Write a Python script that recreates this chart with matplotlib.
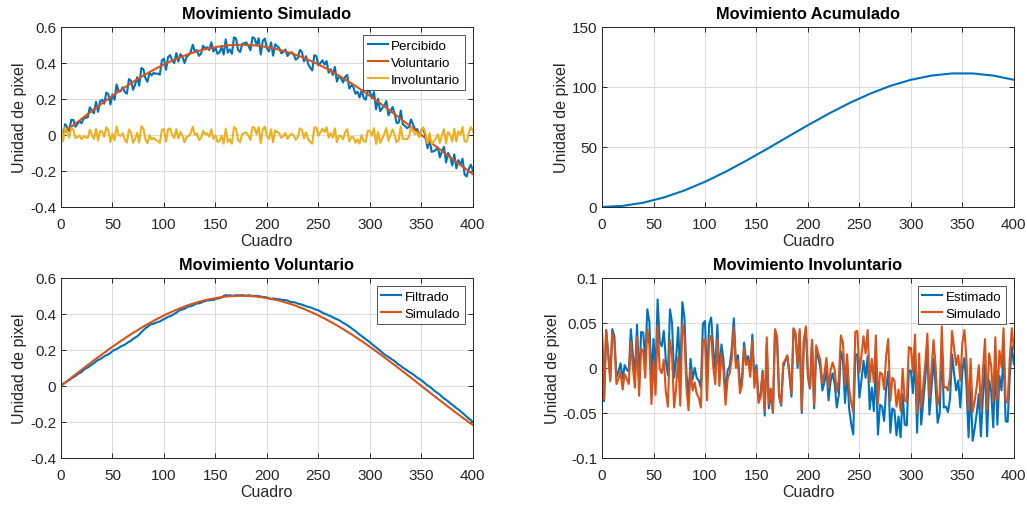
import matplotlib.pyplot as plt
import numpy as np
from matplotlib.ticker import FuncFormatter

plt.rcParams['font.family'] = ['Liberation Sans', 'DejaVu Sans']

# frames (step 2)
cuadro = np.arange(0, 401, 2)

voluntario = [
    0.000, 0.009, 0.018, 0.027, 0.036, 0.045, 0.054, 0.063, 0.072, 0.080,
    0.089, 0.098, 0.107, 0.116, 0.124, 0.133, 0.142, 0.150, 0.159, 0.167,
    0.176, 0.184, 0.192, 0.201, 0.209, 0.217, 0.225, 0.233, 0.241, 0.249,
    0.256, 0.264, 0.272, 0.279, 0.287, 0.294, 0.301, 0.308, 0.315, 0.322,
    0.329, 0.336, 0.342, 0.349, 0.355, 0.361, 0.368, 0.374, 0.379, 0.385,
    0.391, 0.397, 0.402, 0.407, 0.412, 0.417, 0.422, 0.427, 0.432, 0.436,
    0.440, 0.445, 0.449, 0.453, 0.456, 0.460, 0.463, 0.467, 0.470, 0.473,
    0.476, 0.478, 0.481, 0.483, 0.485, 0.487, 0.489, 0.491, 0.493, 0.494,
    0.496, 0.497, 0.498, 0.499, 0.499, 0.500, 0.500, 0.500, 0.500, 0.500,
    0.499, 0.499, 0.498, 0.498, 0.497, 0.496, 0.494, 0.493, 0.491, 0.489,
    0.487, 0.485, 0.483, 0.481, 0.478, 0.476, 0.473, 0.470, 0.467, 0.463,
    0.460, 0.456, 0.453, 0.449, 0.445, 0.440, 0.436, 0.432, 0.427, 0.422,
    0.417, 0.412, 0.407, 0.402, 0.397, 0.391, 0.385, 0.379, 0.374, 0.368,
    0.361, 0.355, 0.349, 0.342, 0.336, 0.329, 0.322, 0.315, 0.308, 0.301,
    0.294, 0.287, 0.279, 0.272, 0.264, 0.256, 0.249, 0.241, 0.233, 0.225,
    0.217, 0.209, 0.201, 0.192, 0.184, 0.176, 0.167, 0.159, 0.150, 0.142,
    0.133, 0.124, 0.116, 0.107, 0.098, 0.089, 0.080, 0.072, 0.063, 0.054,
    0.045, 0.036, 0.027, 0.018, 0.009, 0.000, -0.009, -0.018, -0.027, -0.036,
    -0.045, -0.054, -0.063, -0.072, -0.080, -0.089, -0.098, -0.107, -0.116, -0.124,
    -0.133, -0.142, -0.150, -0.159, -0.167, -0.176, -0.184, -0.192, -0.201, -0.209,
    -0.217]

involuntario = [
    0.040, -0.035, 0.042, 0.015, -0.015, 0.039, 0.029, -0.018, -0.012, -0.004,
    -0.024, -0.007, -0.012, -0.018, 0.029, 0.000, -0.022, 0.034, -0.031, 0.021,
    0.019, -0.011, 0.043, 0.025, -0.040, 0.008, -0.030, 0.047, -0.001, -0.006,
    0.009, -0.027, -0.043, 0.031, 0.014, -0.044, -0.022, 0.012, -0.042, 0.049,
    0.036, -0.022, -0.047, -0.002, -0.025, -0.016, -0.029, -0.033, -0.044, 0.029,
    0.032, -0.036, 0.030, 0.036, 0.001, -0.018, 0.032, -0.020, 0.016, -0.003,
    -0.041, -0.012, -0.006, 0.010, 0.045, 0.000, 0.008, -0.028, -0.019, 0.022,
    0.003, 0.009, -0.010, 0.031, -0.022, -0.002, -0.039, -0.033, -0.005, -0.048,
    0.034, -0.040, -0.023, -0.049, 0.043, 0.035, -0.029, -0.040, 0.005, 0.009,
    0.014, -0.004, -0.028, 0.044, 0.039, 0.004, 0.043, -0.047, 0.031, 0.046,
    -0.006, -0.022, 0.031, -0.041, 0.025, 0.016, 0.009, -0.017, -0.006, 0.011,
    -0.022, -0.003, 0.006, -0.002, -0.027, -0.013, 0.036, 0.028, -0.019, 0.015,
    -0.023, -0.038, -0.049, 0.040, 0.041, -0.005, 0.014, 0.035, 0.016, 0.042,
    -0.016, 0.010, -0.016, 0.036, -0.040, -0.005, -0.007, -0.024, 0.014, 0.032,
    -0.037, -0.011, -0.014, -0.043, -0.024, -0.048, -0.001, -0.036, -0.038, 0.023,
    0.022, -0.005, 0.037, -0.050, 0.016, -0.044, -0.019, 0.005, 0.038, -0.033,
    -0.002, 0.031, 0.002, -0.041, -0.030, 0.046, -0.022, -0.021, -0.025, -0.010,
    0.041, 0.021, 0.003, 0.014, -0.014, 0.028, 0.042, 0.009, -0.047, 0.010,
    -0.049, -0.037, -0.020, 0.003, -0.045, -0.002, 0.032, -0.046, 0.016, 0.002,
    -0.037, 0.034, -0.036, 0.019, 0.001, 0.044, -0.035, -0.039, 0.010, 0.044,
    0.021]

filtrado = [
    0.003, 0.011, 0.018, 0.026, 0.032, 0.041, 0.048, 0.055, 0.064, 0.071,
    0.077, 0.088, 0.097, 0.102, 0.110, 0.119, 0.126, 0.136, 0.144, 0.148,
    0.156, 0.164, 0.170, 0.175, 0.183, 0.193, 0.200, 0.204, 0.211, 0.219,
    0.224, 0.229, 0.237, 0.245, 0.251, 0.261, 0.268, 0.275, 0.285, 0.298,
    0.309, 0.320, 0.328, 0.337, 0.343, 0.345, 0.350, 0.355, 0.357, 0.365,
    0.371, 0.376, 0.384, 0.387, 0.392, 0.400, 0.406, 0.415, 0.422, 0.424,
    0.428, 0.436, 0.441, 0.442, 0.446, 0.453, 0.457, 0.458, 0.462, 0.467,
    0.471, 0.474, 0.475, 0.477, 0.477, 0.482, 0.485, 0.487, 0.491, 0.499,
    0.504, 0.502, 0.504, 0.500, 0.501, 0.503, 0.503, 0.502, 0.504, 0.501,
    0.501, 0.503, 0.502, 0.499, 0.500, 0.500, 0.498, 0.496, 0.493, 0.493,
    0.491, 0.486, 0.483, 0.485, 0.484, 0.481, 0.481, 0.478, 0.477, 0.476,
    0.474, 0.468, 0.465, 0.465, 0.462, 0.457, 0.454, 0.451, 0.447, 0.442,
    0.439, 0.436, 0.432, 0.427, 0.423, 0.419, 0.413, 0.406, 0.401, 0.397,
    0.391, 0.387, 0.381, 0.375, 0.370, 0.365, 0.358, 0.350, 0.344, 0.337,
    0.329, 0.321, 0.312, 0.304, 0.294, 0.285, 0.277, 0.268, 0.259, 0.251,
    0.242, 0.232, 0.223, 0.214, 0.204, 0.195, 0.185, 0.175, 0.167, 0.161,
    0.153, 0.145, 0.138, 0.127, 0.118, 0.111, 0.102, 0.094, 0.087, 0.078,
    0.071, 0.064, 0.055, 0.046, 0.039, 0.031, 0.022, 0.012, 0.003, -0.004,
    -0.013, -0.024, -0.033, -0.040, -0.049, -0.060, -0.070, -0.077, -0.086, -0.096,
    -0.104, -0.114, -0.123, -0.131, -0.141, -0.150, -0.160, -0.171, -0.181, -0.189,
    -0.200]

# accumulated movement (step 20)
cuadro_acum = np.arange(0, 401, 20)
acumulado = [0.0, 0.9, 3.55, 7.89, 13.76, 20.97, 29.3, 38.49, 48.2, 58.2, 68.1,
             77.6, 86.4, 94.2, 100.8, 105.9, 109.4, 111.2, 111.2, 109.4, 105.9]

percibido = np.array(voluntario) + np.array(involuntario)
estimado = percibido - np.array(filtrado)

azul = '#0072BD'
naranja = '#D95319'
amarillo = '#EDB120'
gris = '#262626'


def estilo(ax, titulo, ylim, yticks):
    ax.set_xlim(0, 400)
    ax.set_xticks(range(0, 401, 50))
    ax.set_ylim(*ylim)
    ax.set_yticks(yticks)
    ax.yaxis.set_major_formatter(FuncFormatter(lambda v, p: '%g' % round(v, 4)))
    ax.grid(True, color='#dcdcdc', linewidth=0.8)
    ax.set_axisbelow(True)
    ax.tick_params(direction='in', top=True, right=True, length=3.5,
                   labelsize=11, colors=gris, width=0.7)
    ax.tick_params(axis='x', pad=7)
    for s in ax.spines.values():
        s.set_color(gris)
        s.set_linewidth(0.7)
    ax.set_title(titulo, fontsize=11.8, fontweight='bold', pad=6)
    ax.set_xlabel('Cuadro', fontsize=11.5, color=gris, labelpad=2)
    ax.set_ylabel('Unidad de pixel', fontsize=11.5, color=gris, labelpad=2)


fig = plt.figure(figsize=(10.27, 5.06), dpi=100)
w, h = 0.401, 0.356
ax1 = fig.add_axes([0.0594, 0.589, w, h])
ax2 = fig.add_axes([0.5862, 0.589, w, h])
ax3 = fig.add_axes([0.0594, 0.093, w, h])
ax4 = fig.add_axes([0.5862, 0.093, w, h])

lw = 1.5
ax1.plot(cuadro, percibido, color=azul, lw=lw, label='Percibido')
ax1.plot(cuadro, voluntario, color=naranja, lw=lw, label='Voluntario')
ax1.plot(cuadro, involuntario, color=amarillo, lw=lw, label='Involuntario')
estilo(ax1, 'Movimiento Simulado', (-0.4, 0.6), np.arange(-0.4, 0.61, 0.2))

ax2.plot(cuadro_acum, acumulado, color=azul, lw=lw)
estilo(ax2, 'Movimiento Acumulado', (0, 150), range(0, 151, 50))

ax3.plot(cuadro, filtrado, color=azul, lw=lw, label='Filtrado')
ax3.plot(cuadro, voluntario, color=naranja, lw=lw, label='Simulado')
estilo(ax3, 'Movimiento Voluntario', (-0.4, 0.6), np.arange(-0.4, 0.61, 0.2))

ax4.plot(cuadro, estimado, color=azul, lw=lw, label='Estimado')
ax4.plot(cuadro, involuntario, color=naranja, lw=lw, label='Simulado')
estilo(ax4, 'Movimiento Involuntario', (-0.1, 0.1), np.arange(-0.1, 0.101, 0.05))

for ax in (ax1, ax3, ax4):
    leg = ax.legend(loc='upper right', fontsize=9.6, frameon=True, fancybox=False,
                    handlelength=1.5, handletextpad=0.25, borderpad=0.35,
                    labelspacing=0.35, borderaxespad=0.6)
    leg.get_frame().set_edgecolor(gris)
    leg.get_frame().set_linewidth(0.7)

fig.savefig('out.png', dpi=100)
plt.close(fig)
